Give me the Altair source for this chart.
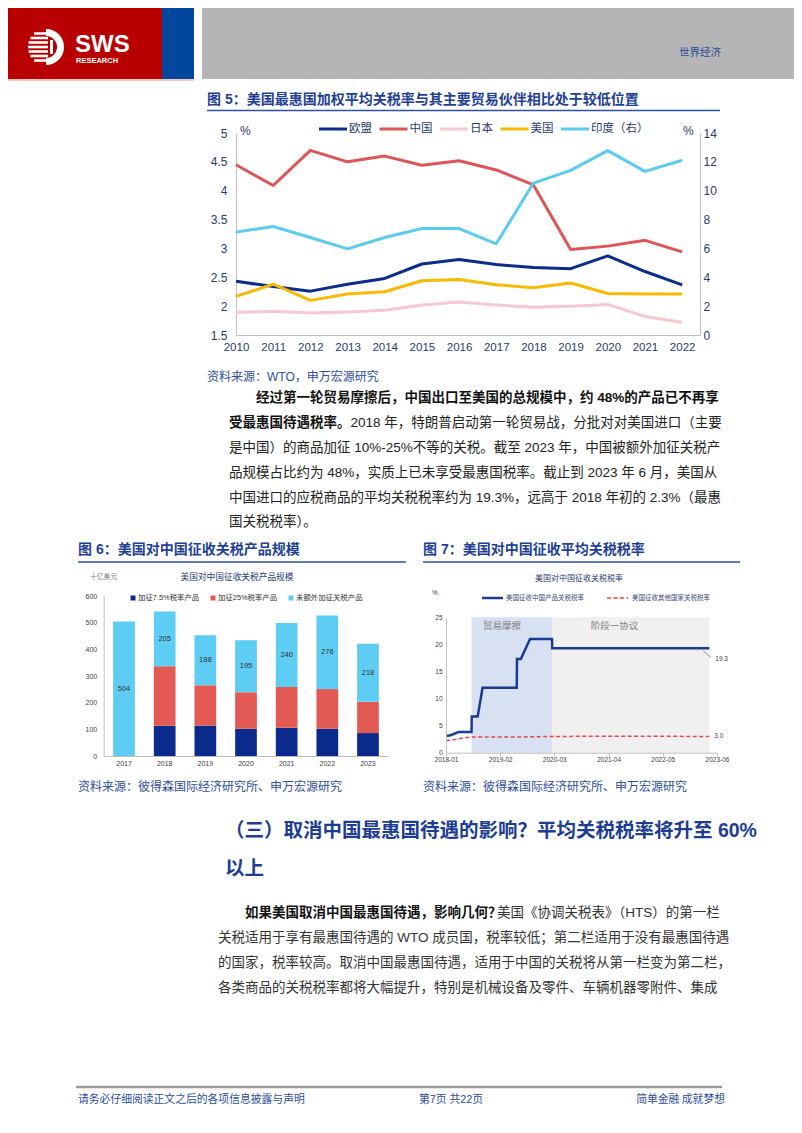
import math
import altair as alt
import pandas as pd

# ---------------- Figure 5 data ----------------
years5 = list(range(2010, 2023))
eu5 = [2.43, 2.34, 2.26, 2.38, 2.48, 2.73, 2.81, 2.72, 2.67, 2.65, 2.87, 2.60, 2.37]
cn5 = [4.45, 4.09, 4.70, 4.50, 4.60, 4.44, 4.52, 4.36, 4.10, 2.98, 3.04, 3.14, 2.94]
jp5 = [1.89, 1.91, 1.88, 1.90, 1.93, 2.02, 2.07, 2.02, 1.98, 2.00, 2.03, 1.82, 1.72]
us5 = [2.17, 2.38, 2.10, 2.21, 2.25, 2.44, 2.46, 2.37, 2.32, 2.40, 2.22, 2.21, 2.21]
in5 = [7.13, 7.52, 6.76, 5.97, 6.76, 7.38, 7.38, 6.32, 10.53, 11.41, 12.78, 11.34, 12.11]
names5 = ["欧盟", "中国", "日本", "美国", "印度（右）"]
colors5 = ["#0c2c8c", "#de5557", "#f7c9cc", "#f8ba00", "#5ccbf0"]
left_ticks5 = [1.5, 2, 2.5, 3, 3.5, 4, 4.5, 5]
right_ticks5 = [0, 2, 4, 6, 8, 10, 12, 14]

# ---------------- Figure 6 data ----------------
years6 = ["2017", "2018", "2019", "2020", "2021", "2022", "2023"]
t75 = [0, 113, 114, 102, 106, 102, 86]
t25 = [0, 224, 151, 137, 153, 149, 117]
free6 = [504, 205, 188, 195, 240, 276, 218]
parts6 = ["加征7.5%税率产品", "加征25%税率产品", "未额外加征关税产品"]
colors6 = ["#0a2a8c", "#e35a55", "#5ecdf3"]
ticks6 = [0, 100, 200, 300, 400, 500, 600]

# ---------------- Figure 7 data ----------------
names7 = ["美国征收中国产品关税税率", "美国征收其他国家关税税率"]
colors7 = ["#1b3b8e", "#e8474b"]
cn_dates = ["2018-01-01", "2018-02-01", "2018-04-01", "2018-07-06", "2018-07-08",
            "2018-08-20", "2018-09-25", "2019-06-01", "2019-06-03", "2019-07-01",
            "2019-09-06", "2020-02-13", "2020-02-15", "2023-04-06"]
cn_rate = [3.1, 3.2, 3.8, 3.8, 6.7, 6.7, 12.0, 12.0, 17.3, 17.3, 21.0, 21.0, 19.3, 19.3]
ot_dates = ["2018-01-01", "2018-03-01", "2018-05-01", "2018-07-01", "2019-06-01",
            "2020-03-01", "2021-06-01", "2023-04-06"]
ot_rate = [2.2, 2.4, 2.7, 2.9, 2.9, 3.0, 3.05, 3.0]
periods7 = ["贸易摩擦", "阶段一协议"]
period_start = ["2018-07-06", "2020-02-14"]
period_end = ["2020-02-14", "2023-04-06"]
period_colors = ["#d8e1f2", "#f0f0f0"]
ticks7_y = [0, 5, 10, 15, 20, 25]
ticks7_x = [(2018, 1), (2019, 2), (2020, 3), (2021, 4), (2022, 5), (2023, 6)]

# ---------------- page texts ----------------
section_name = "世界经济"
fig5_title = "图 5：美国最惠国加权平均关税率与其主要贸易伙伴相比处于较低位置"
fig5_source = "资料来源：WTO，申万宏源研究"
para1_bold = ["经过第一轮贸易摩擦后，中国出口至美国的总规模中，约 48%的产品已不再享",
              "受最惠国待遇税率。"]
para1_plain = ["2018 年，特朗普启动第一轮贸易战，分批对对美国进口（主要",
               "是中国）的商品加征 10%-25%不等的关税。截至 2023 年，中国被额外加征关税产",
               "品规模占比约为 48%，实质上已未享受最惠国税率。截止到 2023 年 6 月，美国从",
               "中国进口的应税商品的平均关税税率约为 19.3%，远高于 2018 年初的 2.3%（最惠",
               "国关税税率）。"]
fig6_title = "图 6：美国对中国征收关税产品规模"
fig7_title = "图 7：美国对中国征收平均关税税率"
fig6_inner_title = "美国对中国征收关税产品规模"
fig6_unit = "十亿美元"
fig7_inner_title = "美国对中国征收关税税率"
fig67_source = "资料来源：彼得森国际经济研究所、申万宏源研究"
heading = ["（三）取消中国最惠国待遇的影响？平均关税税率将升至 60%", "以上"]
para2_bold = "如果美国取消中国最惠国待遇，影响几何？"
para2_plain = ["美国《协调关税表》（HTS）的第一栏",
               "关税适用于享有最惠国待遇的 WTO 成员国，税率较低；第二栏适用于没有最惠国待遇",
               "的国家，税率较高。取消中国最惠国待遇，适用于中国的关税将从第一栏变为第二栏，",
               "各类商品的关税税率都将大幅提升，特别是机械设备及零件、车辆机器零附件、集成"]
footer = ["请务必仔细阅读正文之后的各项信息披露与声明", "第7页 共22页", "简单金融 成就梦想"]

# ---------------- helpers ----------------
W, H, M = 786, 1117, 8
CJK = "Noto Sans CJK SC"
MIX = "Liberation Sans, Noto Sans CJK SC"
LAT = "Liberation Sans"
ONE = pd.DataFrame({"k": [0]})
BLUE_T = "#1f3f96"
BLUE_S = "#2e4f9c"


def P(v):
    return v - M


def text(px, py, s, size, color="#1a1a1a", weight="normal", align="left", font=MIX):
    return alt.Chart(ONE).mark_text(
        text=s, fontSize=size, color=color, fontWeight=weight, align=align,
        baseline="middle", font=font
    ).encode(x=alt.value(P(px)), y=alt.value(P(py)))


def box(x0, y0, x1, y1, color):
    return alt.Chart(ONE).mark_rect(color=color).encode(
        x=alt.value(P(x0)), x2=alt.value(P(x1)), y=alt.value(P(y0)), y2=alt.value(P(y1)))


def hline(x0, x1, y, color, w, dash=None):
    kw = {"color": color, "strokeWidth": w}
    if dash:
        kw["strokeDash"] = dash
    return alt.Chart(ONE).mark_rule(**kw).encode(
        x=alt.value(P(x0)), x2=alt.value(P(x1)), y=alt.value(P(y)))


def seg(x0, y0, x1, y1, color, w):
    return alt.Chart(ONE).mark_rule(color=color, strokeWidth=w).encode(
        x=alt.value(P(x0)), x2=alt.value(P(x1)), y=alt.value(P(y0)), y2=alt.value(P(y1)))


def dt(y, m, d=1):
    return alt.DateTime(year=y, month=m, date=d, utc=True)


layers = []

# ---------------- header ----------------
layers += [box(0, 0, 162, 79, "#b90000"), box(162, 0, 194, 79, "#00479d"),
           box(202, 0, 802, 79, "#b5b5b5"), box(0, 79, 194, 81, "#f3c6c2")]
lcx, lcy, lr = 46, 47, 18
for dy in [-13.5, -9, -4.5, 0, 4.5, 9, 13.5]:
    half = math.sqrt(lr * lr - dy * dy)
    layers.append(hline(lcx - half, lcx + 2, lcy + dy, "white", 2.6))
layers.append(alt.Chart(ONE).mark_arc(color="white", radius=lr, radius2=11, theta=0, theta2=math.pi)
              .encode(x=alt.value(P(lcx)), y=alt.value(P(lcy))))
layers.append(box(lcx + 4, lcy - 7, lcx + 7, lcy + 7, "white"))
layers.append(text(75, 45, "SWS", 24, "white", "bold", font=LAT))
layers.append(text(76, 61, "RESEARCH", 7.5, "white", "bold", font=LAT))
layers.append(text(700, 53, section_name, 10.5, "#2b4c9b", align="center", font=CJK))

# ---------------- Figure 5 ----------------
layers.append(text(207, 100, fig5_title, 14, BLUE_T, "bold"))
layers.append(hline(207, 720, 110.5, "#2f4f9f", 1.5))
AX5 = "#283c6e"
rows5 = []
for nm, vals in zip(names5[:4], [eu5, cn5, jp5, us5]):
    for yv, v in zip(years5, vals):
        rows5.append({"year": yv, "series": nm, "value": v})
df5 = pd.DataFrame(rows5)
dfi = pd.DataFrame({"year": years5, "series": names5[4], "value": in5})
x5 = alt.Scale(domain=[2010, 2022.48], range=[P(236), P(700)], nice=False, zero=False)
yl5 = alt.Scale(domain=[1.5, 5], range=[P(335), P(133)], nice=False, zero=False)
yr5 = alt.Scale(domain=[0, 14], range=[P(335), P(133)], nice=False, zero=False)
col5 = alt.Scale(domain=names5, range=colors5)
ax_x5 = alt.Axis(orient="bottom", offset=P(335) - H, values=years5, format="d", labelFontSize=11.5,
                 labelColor=AX5, labelFont=LAT, domainColor="#bfbfbf", ticks=False, grid=False,
                 labelPadding=6, labelFlush=False, title=None, zindex=1)
ax_l5 = alt.Axis(orient="left", offset=-P(236), values=left_ticks5, format=".1~f", labelFontSize=12,
                 labelColor=AX5, labelFont=LAT, domainColor="#bfbfbf", ticks=False, grid=False,
                 labelPadding=9, labelFlush=False, title=None)
ax_r5 = alt.Axis(orient="right", offset=P(700) - W, values=right_ticks5, labelFontSize=12,
                 labelColor=AX5, labelFont=LAT, domainColor="#bfbfbf", ticks=False, grid=False,
                 labelPadding=3, labelFlush=False, title=None)
layers.append(alt.Chart(df5).mark_line(strokeWidth=3, strokeJoin="round").encode(
    x=alt.X("year:Q", scale=x5, axis=ax_x5),
    y=alt.Y("value:Q", scale=yl5, axis=ax_l5),
    color=alt.Color("series:N", scale=col5, legend=None),
))
layers.append(alt.Chart(dfi).mark_line(strokeWidth=3, strokeJoin="round").encode(
    x=alt.X("year:Q", scale=x5, axis=None),
    y=alt.Y("value:Q", scale=yr5, axis=ax_r5),
    color=alt.Color("series:N", scale=col5, legend=None),
))
# legend keys of figure 5
for nm, c, lx in zip(names5, colors5, [319, 379.5, 440, 500.5, 561]):
    layers.append(hline(lx, lx + 28, 129, c, 3))
    layers.append(text(lx + 30, 129, nm, 11.5, AX5, font=CJK))
layers.append(text(240, 131, "%", 12, AX5, font=LAT))
layers.append(text(683, 131, "%", 12, AX5, font=LAT))
layers.append(text(207, 377, fig5_source, 12, BLUE_S))

# ---------------- paragraph 1 ----------------
FS = 13.5
py1 = [398, 423, 448, 473, 498, 522]
layers.append(text(256, py1[0], para1_bold[0], FS, "#111111", "bold"))
layers.append(text(229, py1[1], para1_bold[1], FS, "#111111", "bold"))
layers.append(text(229 + 9 * FS, py1[1], para1_plain[0], FS, "#222222"))
for i, line in enumerate(para1_plain[1:]):
    layers.append(text(229, py1[i + 2], line, FS, "#222222"))

# ---------------- Figure 6 ----------------
layers.append(text(78, 550, fig6_title, 14, BLUE_T, "bold"))
layers.append(hline(78, 406, 562, "#2f4f9f", 1.5))
layers.append(text(237, 577, fig6_inner_title, 8.7, "#1f3a78", align="center", font=CJK))
layers.append(text(90, 577, fig6_unit, 6.8, "#808080", font=CJK))
rows6 = []
for i, yv in enumerate(years6):
    for k, (pt, arr) in enumerate(zip(parts6, [t75, t25, free6])):
        rows6.append({"year": yv, "part": pt, "value": arr[i], "k": k})
df6 = pd.DataFrame(rows6)
df6l = pd.DataFrame({"year": years6, "a": t75, "b": t25, "free": free6})
x6 = alt.Scale(domain=years6, range=[P(103.7), P(388.3)], paddingInner=0.466, paddingOuter=0.233)
y6 = alt.Scale(domain=[0, 600], range=[P(756), P(596)], nice=False, zero=False)
col6 = alt.Scale(domain=parts6, range=colors6)
ax_x6 = alt.Axis(orient="bottom", offset=P(756) - H, labelFontSize=7, labelColor="#404040",
                 labelFont=LAT, domainColor="#bfbfbf", ticks=False, grid=False, labelPadding=3,
                 labelAngle=0, title=None, zindex=1)
ax_y6 = alt.Axis(orient="left", offset=-P(103.7), values=ticks6, labelFontSize=7,
                 labelColor="#404040", labelFont=LAT, domainColor="#bfbfbf", ticks=False,
                 grid=False, labelPadding=7, labelFlush=False, title=None)
layers.append(alt.Chart(df6).mark_bar().encode(
    x=alt.X("year:N", scale=x6, axis=ax_x6),
    y=alt.Y("value:Q", stack="zero", scale=y6, axis=ax_y6),
    color=alt.Color("part:N", scale=col6, legend=None),
    order=alt.Order("k:Q"),
))
layers.append(alt.Chart(df6l).transform_calculate(
    mid="datum.a + datum.b + datum.free / 2"
).mark_text(fontSize=7.5, color="#333333", font=LAT, baseline="middle").encode(
    x=alt.X("year:N", scale=x6, axis=None),
    y=alt.Y("mid:Q", scale=y6, axis=None),
    text=alt.Text("free:Q"),
))
for pt, c, lx in zip(parts6, colors6, [133, 213, 291]):
    layers.append(box(lx - 2.5, 595.5, lx + 2.5, 600.5, c))
    layers.append(text(lx + 5, 598, pt, 7.4, "#333333"))

# ---------------- Figure 7 ----------------
layers.append(text(423, 550, fig7_title, 14, BLUE_T, "bold"))
layers.append(hline(423, 740, 562, "#2f4f9f", 1.5))
layers.append(text(579, 579, fig7_inner_title, 8, "#1f3a78", align="center", font=CJK))
layers.append(text(432, 593, "%", 6.5, "#404040", font=LAT))
rows7 = [{"date": d, "rate": v, "series": names7[0]} for d, v in zip(cn_dates, cn_rate)]
rows7 += [{"date": d, "rate": v, "series": names7[1]} for d, v in zip(ot_dates, ot_rate)]
df7 = pd.DataFrame(rows7)
df7s = pd.DataFrame({"period": periods7, "start": period_start, "end": period_end})
x7 = alt.Scale(type="utc", domain=[dt(2018, 1), dt(2023, 6)], range=[P(446), P(717)], nice=False)
y7 = alt.Scale(domain=[0, 25], range=[P(752.7), P(617.3)], nice=False, zero=False)
ax_x7 = alt.Axis(orient="bottom", offset=P(752.7) - H, values=[dt(y, m) for y, m in ticks7_x],
                 format="%Y-%m", labelFontSize=6.5, labelColor="#404040", labelFont=LAT,
                 domainColor="#bfbfbf", tickColor="#bfbfbf", ticks=True, tickSize=3, grid=False,
                 labelPadding=1, labelFlush=False, title=None, zindex=1)
ax_y7 = alt.Axis(orient="left", offset=-P(446), values=ticks7_y, labelFontSize=6.5,
                 labelColor="#404040", labelFont=LAT, domainColor="#bfbfbf", ticks=False,
                 grid=False, labelPadding=4, labelFlush=False, title=None, zindex=1)
layers.append(alt.Chart(df7s).mark_rect().encode(
    x=alt.X("start:T", scale=x7, axis=None),
    x2="end:T",
    y=alt.Y(datum=0, type="quantitative", scale=y7, axis=None),
    y2=alt.datum(25),
    fill=alt.Fill("period:N", scale=alt.Scale(domain=periods7, range=period_colors), legend=None),
))
for lab, d in zip(periods7, [dt(2019, 2, 13), dt(2021, 5, 15)]):
    layers.append(alt.Chart(ONE).mark_text(text=lab, fontSize=9.5, color="#808080", font=CJK).encode(
        x=alt.X(datum=d, type="temporal", scale=x7, axis=None),
        y=alt.Y(datum=23.4, type="quantitative", scale=y7, axis=None)))
layers.append(alt.Chart(df7).mark_line(strokeJoin="miter").encode(
    x=alt.X("date:T", scale=x7, axis=ax_x7),
    y=alt.Y("rate:Q", scale=y7, axis=ax_y7),
    color=alt.Color("series:N", scale=alt.Scale(domain=names7, range=colors7), legend=None),
    strokeDash=alt.StrokeDash("series:N", scale=alt.Scale(domain=names7, range=[[1, 0], [4, 2.5]]),
                              legend=None),
    strokeWidth=alt.StrokeWidth("series:N", scale=alt.Scale(domain=names7, range=[2.5, 1.5]),
                                legend=None),
))
layers.append(alt.Chart(ONE).mark_text(text=f"{cn_rate[-1]:.1f}", fontSize=6.5, color="#404040",
                                       font=LAT, align="left", dx=6, dy=11).encode(
    x=alt.X(datum=dt(2023, 4, 6), type="temporal", scale=x7, axis=None),
    y=alt.Y(datum=cn_rate[-1], type="quantitative", scale=y7, axis=None)))
layers.append(alt.Chart(ONE).mark_text(text=f"{ot_rate[-1]:.1f}", fontSize=6.5, color="#404040",
                                       font=LAT, align="left", dx=5).encode(
    x=alt.X(datum=dt(2023, 4, 6), type="temporal", scale=x7, axis=None),
    y=alt.Y(datum=ot_rate[-1], type="quantitative", scale=y7, axis=None)))
layers.append(seg(703, 650.5, 711, 657.5, "#808080", 0.8))
# legend keys of figure 7
layers.append(hline(482, 503, 598, colors7[0], 2.5))
layers.append(text(506, 598, names7[0], 6.5, "#3a4a78", font=CJK))
layers.append(hline(607, 628, 598, colors7[1], 1.5, dash=[4, 2.5]))
layers.append(text(632, 598, names7[1], 6.5, "#3a4a78", font=CJK))

layers.append(text(78, 787, fig67_source, 12, BLUE_S))
layers.append(text(423, 787, fig67_source, 12, BLUE_S))

# ---------------- heading and paragraph 2 ----------------
layers.append(text(225, 831, heading[0], 19.5, "#1d3c94", "bold"))
layers.append(text(225, 869, heading[1], 19.5, "#1d3c94", "bold"))
py2 = [913, 938, 963, 988]
layers.append(text(245, py2[0], para2_bold, FS, "#111111", "bold"))
layers.append(text(497, py2[0], para2_plain[0], FS, "#333333"))
for i, line in enumerate(para2_plain[1:]):
    layers.append(text(218, py2[i + 1], line, FS, "#333333"))

# ---------------- footer ----------------
layers.append(hline(76, 722, 1087, "#9a9a9a", 2.5))
layers.append(text(78, 1100, footer[0], 10.8, "#2b4c9b", font=CJK))
layers.append(text(451, 1100, footer[1], 10.8, "#2b4c9b", align="center", font=MIX))
layers.append(text(725, 1100, footer[2], 10.8, "#2b4c9b", align="right", font=CJK))

chart = alt.layer(*layers).resolve_scale(
    x="independent", y="independent", color="independent", fill="independent",
    strokeDash="independent", strokeWidth="independent"
).properties(
    width=W, height=H, autosize=alt.AutoSizeParams(type="none"), padding=0
).configure_view(stroke=None).configure_axis(grid=False)

chart.save("out.html", embed_options={"renderer": "svg", "actions": False})
